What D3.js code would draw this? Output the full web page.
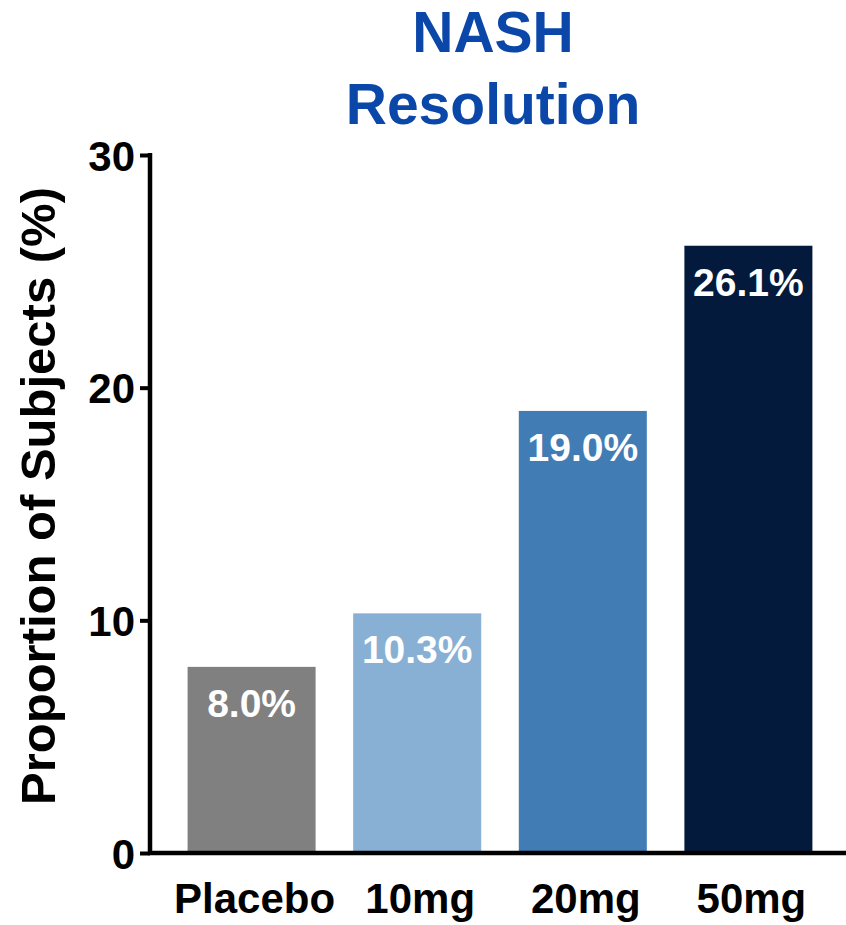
<!DOCTYPE html>
<html>
<head>
<meta charset="utf-8">
<script src="https://cdn.jsdelivr.net/npm/d3@7"></script>
<style>
  html, body { margin: 0; padding: 0; background: #fff; }
  svg { display: block; }
  text { font-family: "Liberation Sans", Arial, Helvetica, sans-serif; font-weight: bold; }
</style>
</head>
<body>
<svg id="chart" width="846" height="925"></svg>
<script>
// Dose groups and the share of subjects reaching NASH resolution
const groups = ["Placebo", "10mg", "20mg", "50mg"];
const values = [8.0, 10.3, 19.0, 26.1];
const barColors = ["#808080", "#87b0d4", "#417db4", "#031a3d"];
const yTicks = [0, 10, 20, 30];
const titleLines = ["NASH", "Resolution"];
const yLabel = "Proportion of Subjects (%)";

const svg = d3.select("#chart");

const x = d3.scaleBand()
  .domain(groups)
  .range([150, 850])
  .padding(0.227);

const y = d3.scaleLinear()
  .domain([0, 30])
  .range([853, 155]);

// Title
svg.append("g")
  .selectAll("text")
  .data(titleLines)
  .join("text")
  .attr("x", 493)
  .attr("y", (d, i) => 52 + i * 72)
  .attr("text-anchor", "middle")
  .attr("font-size", 57)
  .attr("fill", "#0b47a8")
  .text(d => d);

// Bars
svg.append("g")
  .selectAll("rect")
  .data(values)
  .join("rect")
  .attr("x", (d, i) => x(groups[i]))
  .attr("y", d => y(d))
  .attr("width", x.bandwidth())
  .attr("height", d => y(0) - y(d))
  .attr("fill", (d, i) => barColors[i]);

// Value labels inside the bars
svg.append("g")
  .selectAll("text")
  .data(values)
  .join("text")
  .attr("x", (d, i) => x(groups[i]) + x.bandwidth() / 2)
  .attr("y", d => y(d) + 50)
  .attr("text-anchor", "middle")
  .attr("font-size", 39)
  .attr("fill", "#ffffff")
  .text(d => d.toFixed(1) + "%");

// Y axis
const yAxis = svg.append("g")
  .attr("transform", "translate(150,0)")
  .call(d3.axisLeft(y).tickValues(yTicks).tickSize(10).tickSizeOuter(0).tickPadding(5));
yAxis.select(".domain").attr("stroke", "#000").attr("stroke-width", 4.5)
  .attr("d", `M0,${y(30) - 2}V${y(0) + 2}`);
yAxis.selectAll(".tick line").attr("stroke", "#000").attr("stroke-width", 4);
yAxis.selectAll(".tick text")
  .attr("font-size", 42)
  .attr("font-weight", "bold")
  .attr("font-family", "'Liberation Sans', Arial, sans-serif")
  .attr("fill", "#000")
  .attr("dy", "0.36em");

// X axis
const xAxis = svg.append("g")
  .attr("transform", `translate(0,${y(0)})`)
  .call(d3.axisBottom(x).tickSize(0).tickPadding(30));
xAxis.select(".domain").attr("stroke", "#000").attr("stroke-width", 4.5)
  .attr("d", "M148,0H846");
xAxis.selectAll(".tick text")
  .attr("font-size", 42)
  .attr("font-weight", "bold")
  .attr("font-family", "'Liberation Sans', Arial, sans-serif")
  .attr("fill", "#000")
  .attr("dy", "0.71em")
  .attr("dx", 3);

// Y axis title
svg.append("text")
  .attr("transform", "translate(55,496) rotate(-90)")
  .attr("text-anchor", "middle")
  .attr("font-size", 49)
  .attr("fill", "#000")
  .text(yLabel);
</script>
</body>
</html>
